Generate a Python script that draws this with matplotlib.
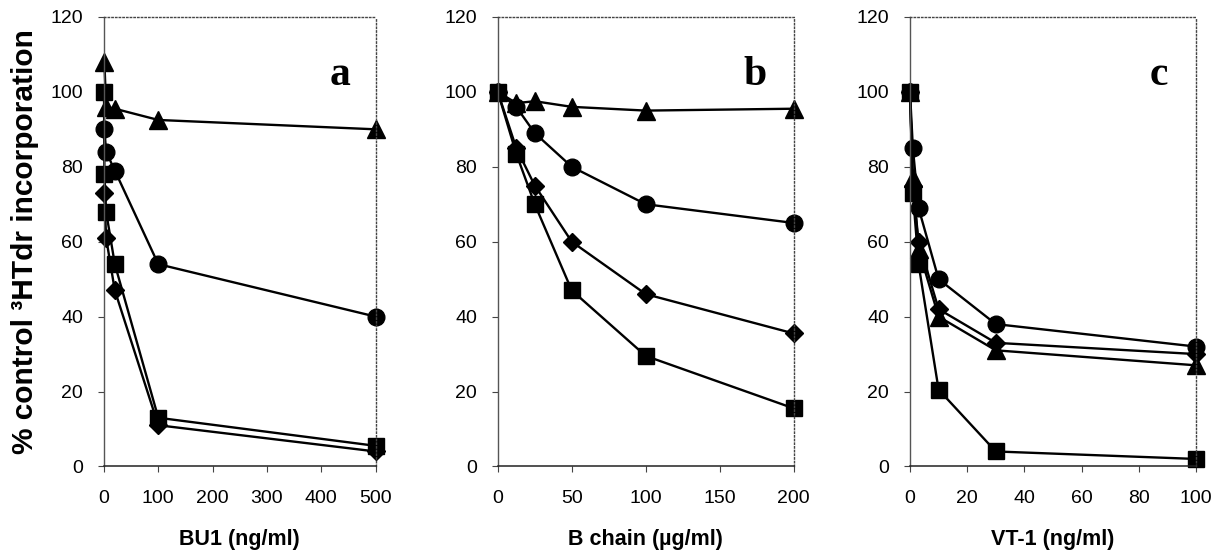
import matplotlib
matplotlib.use("Agg")
import matplotlib.pyplot as plt

plt.rcParams["font.family"] = ["Liberation Sans", "DejaVu Sans"]

# panel a: BU1 (ng/ml)
bu1_x = [0.16, 0.8, 4, 20, 100, 500]
bu1_square = [100, 78, 68, 54, 13, 5.5]
bu1_x5 = [0.8, 4, 20, 100, 500]
bu1_diamond = [73, 61, 47, 11, 4]
bu1_circle = [90, 84, 79, 54, 40]
bu1_triangle = [108, 96, 95.5, 92.5, 90]

# panel b: B chain (ug/ml)
bch_x = [0, 12.5, 25, 50, 100, 200]
bch_triangle = [100, 97, 97.5, 96, 95, 95.5]
bch_circle = [100, 96, 89, 80, 70, 65]
bch_diamond = [100, 85, 75, 60, 46, 35.5]
bch_square = [100, 83.5, 70, 47, 29.5, 15.5]

# panel c: VT-1 (ng/ml)
vt_x = [0, 1, 3, 10, 30, 100]
vt_triangle = [100, 77, 58, 40, 31, 27]
vt_circle = [100, 85, 69, 50, 38, 32]
vt_diamond = [100, 75, 60, 42, 33, 30]
vt_square = [100, 73, 54, 20.5, 4, 2]

STYLE = {
    "tri": dict(marker="^", ms=12.5),
    "cir": dict(marker="o", ms=12),
    "dia": dict(marker="D", ms=9.5),
    "sq": dict(marker="s", ms=11.5),
}


def series(ax, x, y, kind):
    ax.plot(x, y, color="black", lw=1.7, mfc="black", mec="black",
            **STYLE[kind])


def frame(ax, xmax, xticks, xlabel, letter):
    ax.set_xlim(0, xmax)
    ax.set_ylim(0, 120)
    ax.set_xticks(xticks)
    ax.set_yticks(range(0, 121, 20))
    ax.set_xlabel(xlabel, fontsize=15.5, fontweight="bold", labelpad=16)
    for s in ("top", "right"):
        ax.spines[s].set_linestyle(":")
        ax.spines[s].set_color("#444444")
        ax.spines[s].set_linewidth(1.0)
    ax.spines["left"].set_color("#555555")
    ax.spines["left"].set_linewidth(1.0)
    ax.spines["bottom"].set_color("#222222")
    ax.spines["bottom"].set_linewidth(1.1)
    ax.tick_params(axis="both", labelsize=14, direction="out",
                   length=4, width=0.8, color="#444444")
    ax.tick_params(axis="x", pad=13)
    ax.tick_params(axis="y", pad=11)
    ax.text(0.87, 0.87, letter, transform=ax.transAxes, ha="center",
            va="center", fontsize=30, fontweight="bold",
            family="Liberation Serif")
    for p in ax.lines:
        p.set_clip_on(False)


fig = plt.figure(figsize=(12.2, 5.52), dpi=100)
axa = fig.add_axes([0.0852, 0.155, 0.2227, 0.8143])
axb = fig.add_axes([0.408, 0.155, 0.2426, 0.8143])
axc = fig.add_axes([0.7459, 0.155, 0.2344, 0.8143])

series(axa, bu1_x5, bu1_triangle, "tri")
series(axa, bu1_x5, bu1_circle, "cir")
series(axa, bu1_x5, bu1_diamond, "dia")
series(axa, bu1_x, bu1_square, "sq")
frame(axa, 500, range(0, 501, 100), "BU1 (ng/ml)", "a")
axa.set_ylabel("% control ³HTdr incorporation", fontsize=21.5,
               fontweight="bold", labelpad=8)

series(axb, bch_x, bch_triangle, "tri")
series(axb, bch_x, bch_circle, "cir")
series(axb, bch_x, bch_diamond, "dia")
series(axb, bch_x, bch_square, "sq")
frame(axb, 200, range(0, 201, 50), "B chain (µg/ml)", "b")

series(axc, vt_x, vt_triangle, "tri")
series(axc, vt_x, vt_circle, "cir")
series(axc, vt_x, vt_diamond, "dia")
series(axc, vt_x, vt_square, "sq")
frame(axc, 100, range(0, 101, 20), "VT-1 (ng/ml)", "c")

fig.savefig("out.png", dpi=100)
